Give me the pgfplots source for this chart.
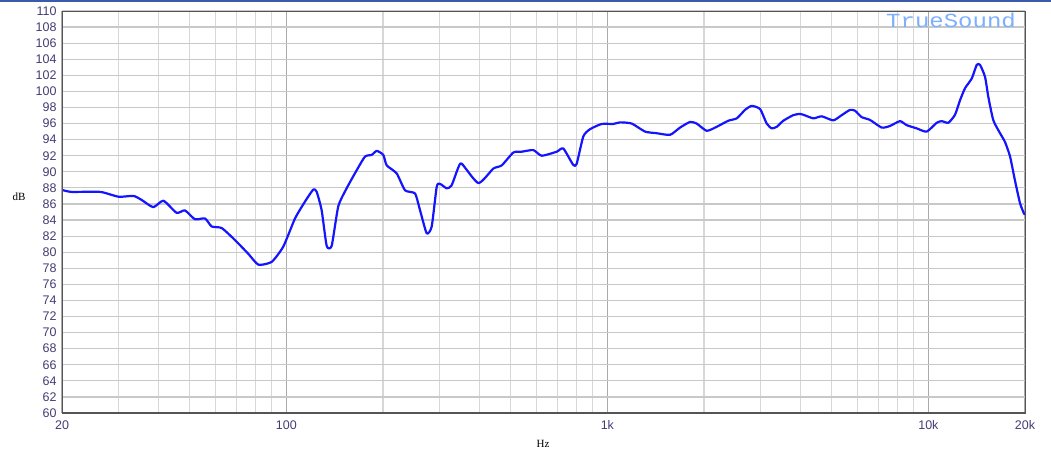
\documentclass[border=0pt]{standalone}
\usepackage{pgfplots}
\pgfplotsset{compat=1.18}
\usepackage{fontspec}
\setmainfont{Liberation Sans}
\newfontfamily\monofont{Liberation Mono}
\newfontfamily\seriffont{Liberation Serif}
\definecolor{curve}{RGB}{20,20,255}
\definecolor{ticktext}{RGB}{70,60,115}
\definecolor{gridh}{RGB}{200,200,200}
\definecolor{gridminor}{RGB}{215,215,215}
\definecolor{gridmajor}{RGB}{170,170,170}
\definecolor{frame}{RGB}{85,85,85}
\definecolor{topbar}{RGB}{60,90,170}
\definecolor{brand}{RGB}{125,175,255}
\begin{document}
\begin{tikzpicture}[x=1pt,y=1pt]
\path (0,0) rectangle (1051,455);
\fill[topbar] (0,453) rectangle (1051,455);
\begin{axis}[
  at={(62pt,42pt)}, anchor=south west,
  scale only axis, width=963pt, height=402pt,
  xmode=log, xmin=20, xmax=20000, ymin=60, ymax=110,
  xtick={20,100,1000,10000,20000},
  xticklabels={20,100,1k,10k,20k},
  minor xtick={30,40,50,60,70,80,90,200,300,400,500,600,700,800,900,2000,3000,4000,5000,6000,7000,8000,9000},
  ytick={60,62,...,110},
  /pgf/number format/assume math mode=true,
  major tick length=0pt, minor tick length=0pt,
  xmajorgrids, xminorgrids, ymajorgrids,
  major x grid style={draw=gridmajor, line width=1.5pt},
  minor x grid style={draw=gridminor, line width=1.2pt},
  major y grid style={draw=gridh, line width=1.2pt},
  axis line style={draw=frame, line width=1pt},
  tick label style={font=\fontsize{12.5}{12.5}\selectfont, text=ticktext},
  yticklabel style={xshift=-2pt},
  xticklabel style={yshift=-4pt},
  clip=true,
]
\addplot[curve, line width=2.2pt, line join=round, smooth, tension=0.35] coordinates {
(20,87.75) (21.4,87.5) (26.3,87.5) (30.0,86.9) (33.4,87.0) (35.4,86.5)
(38.5,85.6) (41.4,86.4) (45.5,84.9) (48.3,85.2) (51.9,84.1) (55.8,84.2)
(58.5,83.2) (62.9,83.0) (69.2,81.5) (76.1,79.8) (81.8,78.45) (90.0,78.8)
(97.8,80.7) (106.4,84.2) (114.3,86.3) (121.3,87.8) (124.3,87.5) (128.8,85.2)
(133.5,80.8) (138.4,80.8) (145.1,85.7) (154.1,87.95) (165.6,90.2) (175.8,91.9)
(184.4,92.1) (191.2,92.6) (200.4,92.1) (205.4,90.8) (220.6,89.8) (234.2,87.7)
(251.6,87.3) (260.9,85.2) (273.6,82.35) (283.6,83.2) (294.0,88.15) (301.0,88.5)
(315.8,87.95) (327,88.3) (343,90.5) (352,91.0) (396.4,88.6) (441.3,90.4)
(468.7,90.8) (509.4,92.4) (541,92.5) (587.8,92.7) (624.4,92.0) (695.2,92.5)
(729,92.9) (783,90.85) (802.3,91.0) (841.4,94.4) (883,95.3) (960,95.95)
(1043.6,95.95) (1095,96.15) (1191,96.0) (1310,95.0) (1425,94.8) (1568,94.6)
(1684,95.5) (1809,96.2) (1898,96.0) (2039,95.1) (2191,95.6) (2380,96.35)
(2530,96.65) (2684,97.7) (2816,98.2) (2990,97.8) (3136,96.0) (3251,95.4)
(3370,95.6) (3532,96.35) (3795,97.05) (3982,97.2) (4078,97.1) (4380,96.65)
(4652,96.9) (5055,96.4) (5370,97.05) (5700,97.7) (5908,97.6) (6198,96.8)
(6578,96.45) (7156,95.5) (7592,95.7) (8156,96.3) (8560,95.8) (9196,95.4)
(9880,95.0) (10616,96.1) (11004,96.3) (11538,96.1) (12104,97.1) (12546,98.9)
(13006,100.4) (13646,101.6) (14144,103.3) (14484,103.3) (15014,101.8) (15374,99.3)
(15934,96.4) (16718,94.8) (17330,93.7) (17964,91.9) (18616,88.9) (19294,86.1)
(19858,84.8) (20000,84.7)
};
\draw[frame, line width=2pt] (rel axis cs:0,0) -- (rel axis cs:0,1);
\draw[frame, line width=2pt] (rel axis cs:0,0) -- (rel axis cs:1,0);
\end{axis}
\node[anchor=center, inner sep=0pt] at (19,258) {\seriffont\fontsize{11}{11}\selectfont dB};
\node[anchor=center, inner sep=0pt] at (543,11) {\seriffont\fontsize{11}{11}\selectfont Hz};
\node[anchor=center, inner sep=0pt, text=brand] at (951,435) {\scalebox{1.2}[1]{\monofont\fontsize{20}{20}\selectfont TrueSound}};
\end{tikzpicture}
\end{document}
